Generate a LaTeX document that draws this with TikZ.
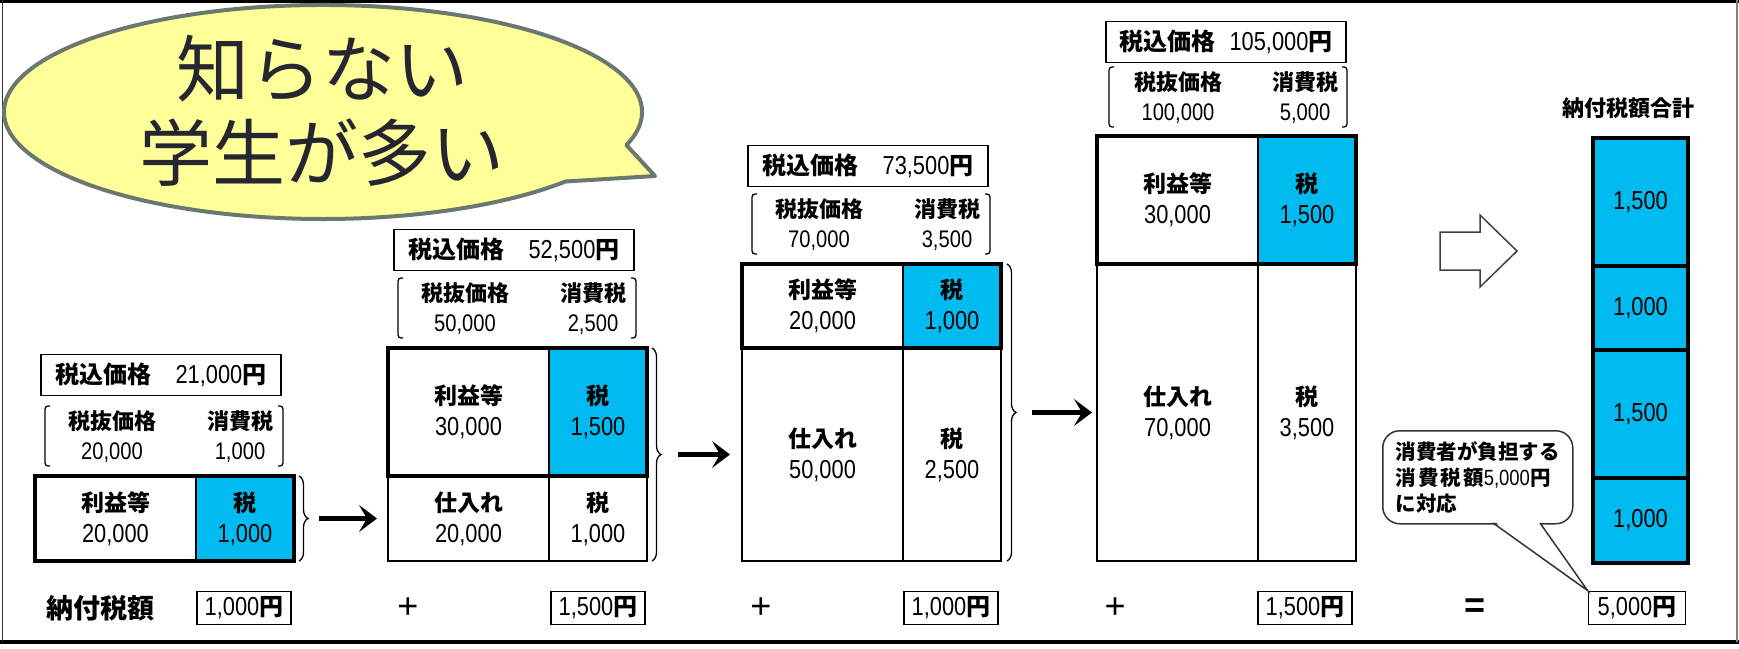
\documentclass[tikz,border=0pt]{standalone}
\usepackage{fontspec}
\newfontfamily\jp{Noto Sans CJK JP}
\newfontfamily\nm{Liberation Sans}[FakeStretch=0.84]
\newfontfamily\ls{Liberation Sans}
\usetikzlibrary{arrows.meta,decorations.pathreplacing,calc}
\definecolor{taxblue}{RGB}{0,187,240}
\definecolor{bubfill}{RGB}{255,255,153}
\definecolor{bubline}{RGB}{107,120,110}
\definecolor{bubtext}{RGB}{38,38,48}
\newcommand\J[1]{{\jp\bfseries #1}}
\newcommand\Num[1]{{\nm\fontsize{26}{31}\selectfont #1}}
\newcommand\NumS[1]{{\nm\fontsize{24}{30}\selectfont #1}}
\tikzset{
  cellbox/.style={draw, line width=1.6pt, inner sep=0pt, outer sep=0pt, anchor=north west, align=center, font=\fontsize{23}{31}\selectfont},
  bluecell/.style={cellbox, fill=taxblue},
  thickframe/.style={line width=4pt},
  pricebox/.style={draw, line width=1.8pt, minimum width=240pt, minimum height=41pt, inner sep=0pt, font=\fontsize{24}{28}\selectfont},
  exlabel/.style={align=center, inner sep=0pt, font=\fontsize{22}{30}\selectfont},
  bracketline/.style={line width=1.3pt, rounded corners=3pt},
  bracestyle/.style={decorate, decoration={brace, amplitude=9pt}, line width=1.3pt},
  flowarrow/.style={line width=5.5pt, -{Stealth[length=18pt,width=27pt,inset=8pt]}},
  sumbox/.style={draw, line width=1.8pt, minimum width=94pt, minimum height=33pt, inner sep=0pt, font=\fontsize{24}{28}\selectfont},
  colcell/.style={draw, line width=4pt, fill=taxblue, minimum width=95pt, inner sep=0pt, anchor=north west},
  optext/.style={inner sep=0pt, font=\ls\fontsize{36}{40}\selectfont},
}
\begin{document}
\begin{tikzpicture}[x=1pt,y=-1pt]
\useasboundingbox (0,0) rectangle (1739,648);
% frame
\draw[line width=3.5pt] (0,1.5) -- (1739,1.5);
\draw[line width=4pt] (0,642) -- (1739,642);
\draw[line width=1.5pt, black!80] (2.5,0) -- (2.5,642);
\draw[line width=1.5pt, black!50] (1737,0) -- (1737,642);

% speech bubble
\coordinate (bc) at (323,112);
\filldraw[fill=bubfill, draw=bubline, line width=4pt, line join=round]
  (bc) ++(-18:319pt and 107pt) arc[start angle=-18, end angle=319.5, x radius=319pt, y radius=107pt] -- (655,176) -- cycle;
\node[text=bubtext, align=center, inner sep=0pt, font=\jp\fontsize{73}{84}\selectfont] (bt) at (322,111) {知らない\\学生が多い};

% ---------- stage 1 ----------
\node[pricebox] (p1) at (161,375) {\J{税込価格}\hspace{24pt}\Num{21,000}\J{円}};
\node[exlabel] (e1) at (112,437) {\J{税抜価格}\\\NumS{20,000}};
\node[exlabel] (t1) at (240,437) {\J{消費税}\\\NumS{1,000}};
\draw[bracketline] (50,406) -- (45,406) -- (45,466) -- (50,466);
\draw[bracketline] (278,406) -- (283,406) -- (283,466) -- (278,466);
\node[cellbox, minimum width=161pt, minimum height=85pt] (s1p) at (35,476) {\J{利益等}\\\Num{20,000}};
\node[bluecell, minimum width=98pt, minimum height=85pt] (s1t) at (196,476) {\J{税}\\\Num{1,000}};
\draw[thickframe] (s1p.north west) rectangle (s1t.south east);
\draw[bracestyle] (299,476) -- (299,561);

% ---------- stage 2 ----------
\node[pricebox] (p2) at (514,250) {\J{税込価格}\hspace{24pt}\Num{52,500}\J{円}};
\node[exlabel] (e2) at (465,309) {\J{税抜価格}\\\NumS{50,000}};
\node[exlabel] (t2) at (593,309) {\J{消費税}\\\NumS{2,500}};
\draw[bracketline] (403,278) -- (398,278) -- (398,338) -- (403,338);
\draw[bracketline] (631,278) -- (636,278) -- (636,338) -- (631,338);
\node[cellbox, minimum width=161pt, minimum height=128pt] (s2p) at (388,348) {\J{利益等}\\\Num{30,000}};
\node[bluecell, minimum width=98pt, minimum height=128pt] (s2t) at (549,348) {\J{税}\\\Num{1,500}};
\node[cellbox, minimum width=161pt, minimum height=85pt] (s2c) at (388,476) {\J{仕入れ}\\\Num{20,000}};
\node[cellbox, minimum width=98pt, minimum height=85pt] (s2ct) at (549,476) {\J{税}\\\Num{1,000}};
\draw[thickframe] (s2p.north west) rectangle (s2t.south east);
\draw[bracestyle] (652,348) -- (652,561);

% ---------- stage 3 ----------
\node[pricebox] (p3) at (868,166) {\J{税込価格}\hspace{24pt}\Num{73,500}\J{円}};
\node[exlabel] (e3) at (819,225) {\J{税抜価格}\\\NumS{70,000}};
\node[exlabel] (t3) at (947,225) {\J{消費税}\\\NumS{3,500}};
\draw[bracketline] (757,194) -- (752,194) -- (752,254) -- (757,254);
\draw[bracketline] (985,194) -- (990,194) -- (990,254) -- (985,254);
\node[cellbox, minimum width=161pt, minimum height=84pt] (s3p) at (742,264) {\J{利益等}\\\Num{20,000}};
\node[bluecell, minimum width=98pt, minimum height=84pt] (s3t) at (903,264) {\J{税}\\\Num{1,000}};
\node[cellbox, minimum width=161pt, minimum height=213pt] (s3c) at (742,348) {\J{仕入れ}\\\Num{50,000}};
\node[cellbox, minimum width=98pt, minimum height=213pt] (s3ct) at (903,348) {\J{税}\\\Num{2,500}};
\draw[thickframe] (s3p.north west) rectangle (s3t.south east);
\draw[bracestyle] (1007,264) -- (1007,561);

% ---------- stage 4 ----------
\node[pricebox] (p4) at (1226,42) {\J{税込価格}\hspace{14pt}\Num{105,000}\J{円}};
\node[exlabel] (e4) at (1178,98) {\J{税抜価格}\\\NumS{100,000}};
\node[exlabel] (t4) at (1305,98) {\J{消費税}\\\NumS{5,000}};
\draw[bracketline] (1114,67) -- (1109,67) -- (1109,127) -- (1114,127);
\draw[bracketline] (1342,67) -- (1347,67) -- (1347,127) -- (1342,127);
\node[cellbox, minimum width=161pt, minimum height=128pt] (s4p) at (1097,136) {\J{利益等}\\\Num{30,000}};
\node[bluecell, minimum width=98pt, minimum height=128pt] (s4t) at (1258,136) {\J{税}\\\Num{1,500}};
\node[cellbox, minimum width=161pt, minimum height=297pt] (s4c) at (1097,264) {\J{仕入れ}\\\Num{70,000}};
\node[cellbox, minimum width=98pt, minimum height=297pt] (s4ct) at (1258,264) {\J{税}\\\Num{3,500}};
\draw[thickframe] (s4p.north west) rectangle (s4t.south east);

% flow arrows
\coordinate (a1s) at (319,518.5); \coordinate (a1e) at (377,518.5);
\coordinate (a2s) at (678,454.5); \coordinate (a2e) at (730,454.5);
\coordinate (a3s) at (1032,412.5); \coordinate (a3e) at (1092,412.5);
\draw[flowarrow] (a1s) -- (a1e);
\draw[flowarrow] (a2s) -- (a2e);
\draw[flowarrow] (a3s) -- (a3e);

% hollow arrow
\draw[line width=1.5pt, draw=black!75, fill=white] (1440,232) -- (1480,232) -- (1480,215) -- (1517,251) -- (1480,287) -- (1480,270) -- (1440,270) -- cycle;

% total column
\node[inner sep=0pt, font=\fontsize{22}{26}\selectfont] (ctitle) at (1628,108) {\J{納付税額合計}};
\node[colcell, minimum height=128pt] (c4) at (1591,136) {\Num{1,500}\hspace{12pt}};
\node[colcell, minimum height=84pt] (c3) at (1591,264) {\Num{1,000}\hspace{12pt}};
\node[colcell, minimum height=128pt] (c2) at (1591,348) {\Num{1,500}\hspace{12pt}};
\node[colcell, minimum height=85pt] (c1) at (1591,476) {\Num{1,000}\hspace{12pt}};

% bottom row
\node[inner sep=0pt, font=\fontsize{27}{30}\selectfont] (nlabel) at (100,608) {\J{納付税額}};
\node[sumbox] (b1) at (244,608) {\Num{1,000}\J{円}};
\node[optext] (plus1) at (408,608) {+};
\node[sumbox] (b2) at (598,608) {\Num{1,500}\J{円}};
\node[optext] (plus2) at (761,608) {+};
\node[sumbox] (b3) at (951,608) {\Num{1,000}\J{円}};
\node[optext] (plus3) at (1115,608) {+};
\node[sumbox] (b4) at (1305,608) {\Num{1,500}\J{円}};
\node[optext] (eq) at (1475,608) {\bfseries =};
\node[sumbox, minimum width=97pt] (b5) at (1637,608) {\Num{5,000}\J{円}};

% callout
\node[draw, line width=1.5pt, draw=black!80, fill=white, rounded corners=17pt, minimum width=190pt, minimum height=93pt, anchor=north west, inner sep=0pt] (call) at (1382,430) {};
\fill[white] (1494,521) -- (1581,590) -- (1539,521) -- cycle;
\draw[line width=1.5pt, black!80, line join=miter] (1493,523) -- (b5.north west) -- (1540,523);
\node[align=left, inner sep=0pt, font=\fontsize{20.5}{26}\selectfont] (calltext) at (call.center)
  {\J{消費者が負担する}\\\J{消\hspace{2pt}費\hspace{2pt}税\hspace{2pt}額}{\nm\fontsize{22}{26}\selectfont 5,000}\J{円}\\\J{に対応}};
\end{tikzpicture}
\end{document}
